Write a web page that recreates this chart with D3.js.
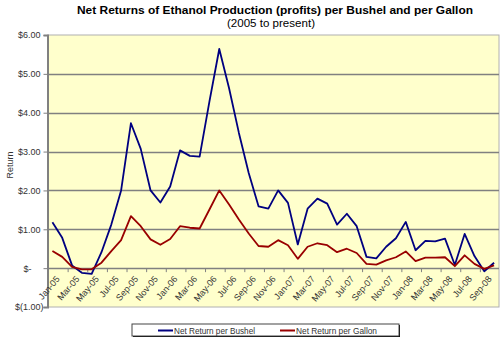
<!DOCTYPE html>
<html><head><meta charset="utf-8">
<script src="https://cdn.jsdelivr.net/npm/d3@7"></script>
<style>body{margin:0;background:#fff}svg{display:block;font-family:"Liberation Sans",Arial,sans-serif}</style>
</head><body><svg id="c" width="500" height="339"></svg>
<script>
const categories = ["Jan-05","Feb-05","Mar-05","Apr-05","May-05","Jun-05","Jul-05","Aug-05","Sep-05","Oct-05","Nov-05","Dec-05",
"Jan-06","Feb-06","Mar-06","Apr-06","May-06","Jun-06","Jul-06","Aug-06","Sep-06","Oct-06","Nov-06","Dec-06",
"Jan-07","Feb-07","Mar-07","Apr-07","May-07","Jun-07","Jul-07","Aug-07","Sep-07","Oct-07","Nov-07","Dec-07",
"Jan-08","Feb-08","Mar-08","Apr-08","May-08","Jun-08","Jul-08","Aug-08","Sep-08","Oct-08"];
const bushel = [1.18,0.78,0.07,-0.12,-0.15,0.41,1.12,2.0,3.73,3.07,2.0,1.69,
2.1,3.03,2.89,2.87,4.29,5.64,4.63,3.48,2.45,1.59,1.53,2.0,
1.68,0.61,1.53,1.79,1.66,1.12,1.40,1.08,0.29,0.25,0.55,0.77,
1.19,0.46,0.70,0.69,0.76,0.08,0.88,0.31,-0.08,0.14];
const gallon = [0.44,0.29,0.03,-0.03,-0.03,0.14,0.44,0.72,1.34,1.08,0.74,0.60,
0.75,1.08,1.04,1.02,1.51,2.0,1.64,1.25,0.89,0.57,0.55,0.72,
0.59,0.24,0.55,0.64,0.59,0.41,0.50,0.39,0.11,0.09,0.20,0.28,
0.43,0.18,0.27,0.27,0.28,0.05,0.33,0.11,-0.02,0.07];
const yTicks = [-1,0,1,2,3,4,5,6];
const yTickLabels = ["$(1.00)","$-","$1.00","$2.00","$3.00","$4.00","$5.00","$6.00"];
const xTickLabels = ["Jan-05","Mar-05","May-05","Jul-05","Sep-05","Nov-05","Jan-06","Mar-06","May-06","Jul-06","Sep-06","Nov-06",
"Jan-07","Mar-07","May-07","Jul-07","Sep-07","Nov-07","Jan-08","Mar-08","May-08","Jul-08","Sep-08"];
const seriesNames = ["Net Return per Bushel","Net Return per Gallon"];
const seriesColors = ["#000080","#990000"];

const svg = d3.select("#c");
const L = 47.5, R = 499, T = 35, B = 307;
const x = d3.scaleBand().domain(categories).range([L, R]).paddingInner(0).paddingOuter(0);
const cx = d => x(d) + x.bandwidth()/2;
const y = d3.scaleLinear().domain([-1, 6]).range([B, T]);

// plot area
svg.append("rect").attr("x", L).attr("y", T).attr("width", R - L).attr("height", B - T)
  .attr("fill", "#FFFFCC").attr("stroke", "#b0b0b0").attr("stroke-width", 1);

// gridlines
svg.append("g").selectAll("line").data(yTicks.filter(v => v > 0 && v < 6)).join("line")
  .attr("x1", L).attr("x2", R).attr("y1", d => Math.round(y(d)) + 0.5).attr("y2", d => Math.round(y(d)) + 0.5)
  .attr("stroke", "#808080").attr("stroke-width", 1.4);

// y axis
const yAxis = d3.axisLeft(y).tickValues(yTicks).tickSize(4)
  .tickFormat((d, i) => yTickLabels[i]);
const ya = svg.append("g").attr("transform", `translate(${L},0)`).call(yAxis);
ya.select(".domain").attr("stroke", "#808080").attr("stroke-width", 2);
ya.selectAll(".tick line").attr("stroke", "#808080");
ya.selectAll(".tick text").attr("font-size", 9).attr("fill", "#333").attr("font-family", "Liberation Sans, Arial")
  .attr("x", (d) => d < 0 ? -4 : d === 0 ? -16 : -7);

// zero axis line
svg.append("line").attr("x1", L).attr("x2", R).attr("y1", Math.round(y(0)) + 0.5).attr("y2", Math.round(y(0)) + 0.5)
  .attr("stroke", "#808080").attr("stroke-width", 1.6);

// x ticks at category boundaries every 2
const tickCats = categories.filter((c, i) => i % 2 === 0 && i > 0);
svg.append("g").selectAll("line").data(tickCats).join("line")
  .attr("x1", d => x(d) + 1).attr("x2", d => x(d) + 1)
  .attr("y1", y(0)).attr("y2", y(0) + 4).attr("stroke", "#808080");

// x labels
svg.append("g").selectAll("text").data(xTickLabels).join("text")
  .attr("transform", d => `translate(${cx(d) + 3},${y(0) + 7}) rotate(-50)`)
  .attr("text-anchor", "end").attr("dy", "0.7em")
  .attr("font-size", 9).attr("fill", "#333").text(d => d);

// lines
const line = d3.line().x((d, i) => cx(categories[i])).y(d => y(d));
[bushel, gallon].forEach((s, k) => {
  svg.append("path").datum(s).attr("d", line).attr("fill", "none")
    .attr("stroke", seriesColors[k]).attr("stroke-width", 1.8).attr("stroke-linejoin", "round");
});

// titles
svg.append("text").attr("x", 275).attr("y", 14).attr("text-anchor", "middle")
  .attr("font-weight", "bold").attr("font-size", 11).attr("fill", "#000")
  .attr("textLength", 396).attr("lengthAdjust", "spacingAndGlyphs")
  .text("Net Returns of Ethanol Production (profits) per Bushel and per Gallon");
svg.append("text").attr("x", 271).attr("y", 27).attr("text-anchor", "middle")
  .attr("font-size", 10).attr("fill", "#000")
  .attr("textLength", 88).attr("lengthAdjust", "spacingAndGlyphs")
  .text("(2005 to present)");

// y title
svg.append("text").attr("transform", "translate(13,165) rotate(-90)").attr("text-anchor", "middle")
  .attr("font-size", 9).attr("fill", "#333").text("Return");

// legend
svg.append("rect").attr("x", 133).attr("y", 325).attr("width", 267).attr("height", 12).attr("fill", "#000");
svg.append("rect").attr("x", 132).attr("y", 324).attr("width", 267).attr("height", 12)
  .attr("fill", "#fff").attr("stroke", "#444").attr("stroke-width", 1);
const lx = [158, 280], tl = [81, 81];
seriesNames.forEach((n, k) => {
  svg.append("line").attr("x1", lx[k]).attr("x2", lx[k] + 15).attr("y1", 330.5).attr("y2", 330.5)
    .attr("stroke", seriesColors[k]).attr("stroke-width", 2);
  svg.append("text").attr("x", lx[k] + 16).attr("y", 333.5).attr("font-size", 9).attr("fill", "#333")
    .attr("textLength", tl[k]).attr("lengthAdjust", "spacingAndGlyphs").text(n);
});
</script></body></html>
